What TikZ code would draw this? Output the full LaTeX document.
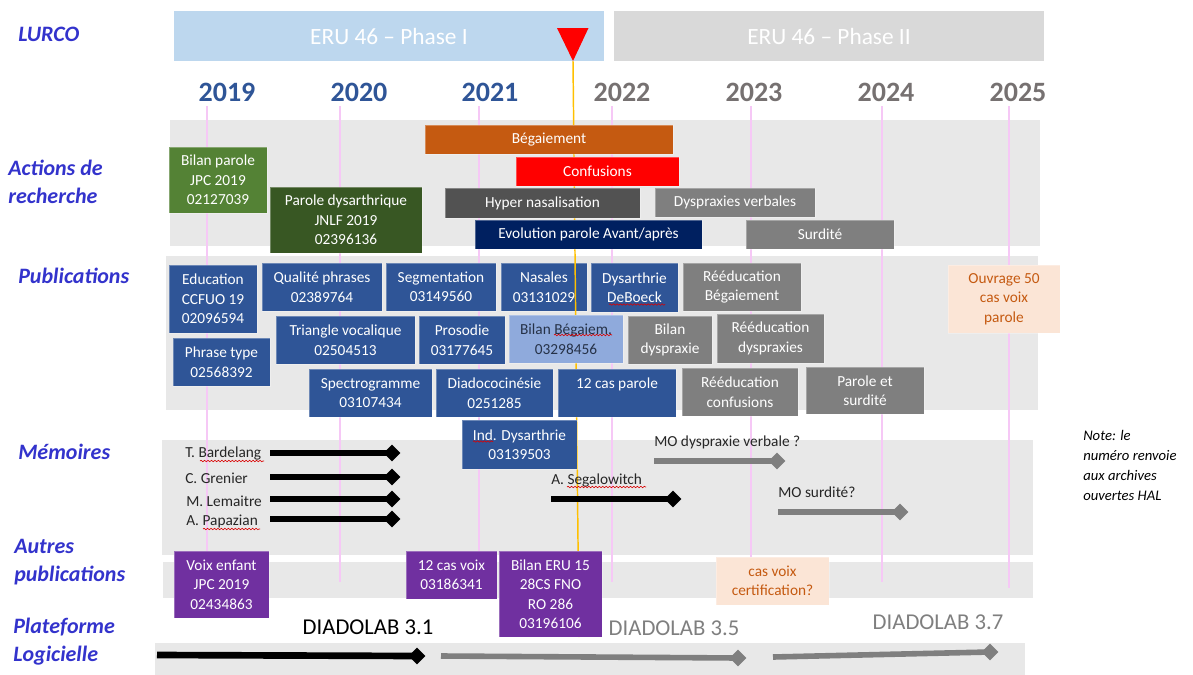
\documentclass[tikz,border=0pt]{standalone}
\usepackage{fontspec}
\setmainfont{Carlito}
\usetikzlibrary{shapes.geometric,decorations.pathmorphing}

\definecolor{phaseone}{RGB}{189,215,238}
\definecolor{phasetwo}{RGB}{217,217,217}
\definecolor{bandgray}{RGB}{232,232,232}
\definecolor{gridpink}{RGB}{246,200,246}
\definecolor{nowline}{RGB}{255,192,0}
\definecolor{yearblue}{RGB}{47,85,151}
\definecolor{yeargray}{RGB}{118,113,113}
\definecolor{labelblue}{RGB}{51,51,204}
\definecolor{pubblue}{RGB}{47,85,151}
\definecolor{pubpale}{RGB}{143,170,220}
\definecolor{pubpaletext}{RGB}{38,50,72}
\definecolor{futgray}{RGB}{127,127,127}
\definecolor{darkgray}{RGB}{82,82,82}
\definecolor{orangebox}{RGB}{197,90,17}
\definecolor{greenA}{RGB}{84,130,53}
\definecolor{greenB}{RGB}{56,87,35}
\definecolor{navybox}{RGB}{0,32,96}
\definecolor{purplebox}{RGB}{112,48,160}
\definecolor{peach}{RGB}{251,229,214}
\definecolor{memtextcol}{RGB}{38,38,38}

\tikzset{
  % a box given by its corners x1/y1/x2/y2 in picture units
  span/.style args={#1/#2/#3/#4}{
    minimum width={(#3-#1)*0.75pt}, minimum height={(#4-#2)*0.75pt},
    at={({(#1+#3)/2},{(#2+#4)/2})}},
  band/.style={fill=bandgray, draw=none},
  gridline/.style={draw=gridpink, line width=0.8pt},
  box/.style={inner sep=0pt, text=white, align=center,
    draw=white, draw opacity=0.3, line width=0.7pt,
    font=\fontsize{11.5}{14.6}\selectfont},
  pub/.style={box, fill=pubblue},
  fut/.style={box, fill=futgray},
  autre/.style={box, fill=purplebox},
  planned/.style={box, fill=peach, text=orangebox},
  phasebar/.style={inner sep=0pt, text=white, font=\fontsize{17.5}{21}\selectfont},
  year/.style={inner sep=0pt, font=\fontsize{21}{25}\selectfont\bfseries},
  rowlabel/.style={inner sep=0pt, anchor=west, align=left, text=labelblue,
    font=\fontsize{16.5}{21}\selectfont\bfseries\itshape},
  memtext/.style={inner sep=0pt, anchor=west, text=memtextcol,
    font=\fontsize{11.5}{14}\selectfont},
  dmd/.style={diamond, inner sep=0pt, minimum width=12.75pt, minimum height=12.75pt},
  blackbar/.style={line width=5pt, draw=black},
  graybar/.style={line width=4.2pt, draw=futgray},
  release/.style={inner sep=0pt, font=\fontsize{17}{21}\selectfont},
  squig/.style={draw=red!85!black, line width=0.45pt, decorate,
    decoration={snake, amplitude=0.55pt, segment length=2.6pt}},
}

\begin{document}
\begin{tikzpicture}[x=0.75pt, y=-0.75pt]
\useasboundingbox (0,0) rectangle (1193,675);

% background bands of the rows
\fill[band] (170,120) rectangle (1040,246);
\fill[band] (166,256) rectangle (1038,410);
\fill[band] (162,440) rectangle (1033,555);
\fill[band] (163,562) rectangle (1033,598);
\fill[band] (155,643) rectangle (1025,675);

% year grid
\foreach \gx in {207,340,479,612,751,882}
  \draw[gridline] (\gx,106) -- (\gx,582);
\draw[gridline] (1009,106) -- (1009,588);

% project phases
\node[phasebar, fill=phaseone, span=174/11/604/61] (phase1) {ERU 46 -- Phase I};
\node[phasebar, fill=phasetwo, span=614/11/1044/61] (phase2) {ERU 46 -- Phase II};

% years
\node[year, text=yearblue] (y2019) at (227,92) {2019};
\node[year, text=yearblue] (y2020) at (359,92) {2020};
\node[year, text=yearblue] (y2021) at (490,92) {2021};
\node[year, text=yeargray] (y2022) at (622,92) {2022};
\node[year, text=yeargray] (y2023) at (754,92) {2023};
\node[year, text=yeargray] (y2024) at (886,92) {2024};
\node[year, text=yeargray] (y2025) at (1018,92) {2025};

% row labels
\node[rowlabel] (lurco) at (18,34) {LURCO};
\node[rowlabel] (lactions) at (8,182) {Actions de\\recherche};
\node[rowlabel] (lpubli) at (18,276) {Publications};
\node[rowlabel] (lmemoires) at (18,452) {Mémoires};
\node[rowlabel] (lautres) at (14,562) {Autres\\publications};
\node[rowlabel] (lplateforme) at (13,642) {Plateforme\\Logicielle};

% publication crossed by the current-date line
\node[pub, span=501/263/587/311] (nasales) {Nasales\\03131029};

% current date marker
\coordinate (nowtop) at (573,61);
\coordinate (nowbottom) at (579,637);
\draw[nowline, line width=1.1pt] (nowtop) -- (nowbottom);
\fill[red] (557,28) -- (588.5,28) -- (nowtop) -- cycle;

% research actions
\node[box, fill=greenA, span=169/147/267/213] (bilanparole) {Bilan parole\\JPC 2019\\02127039};
\node[box, fill=greenB, span=270/187/422/253] (paroledys) {Parole dysarthrique\\JNLF 2019\\02396136};
\node[box, fill=orangebox, span=425/125/673/154] (begaiement) {Bégaiement};
\node[box, fill=red, span=516/157/679/186] (confusions) {Confusions};
\node[box, fill=darkgray, span=445/188/640/218] (hypernas) {Hyper nasalisation};
\node[fut, span=655/188/815/217] (dysverb) {Dyspraxies verbales};
\node[box, fill=navybox, span=475/220/702/249] (evolution) {Evolution parole Avant/après};
\node[fut, span=746/220/894/249] (surdite) {Surdité};

% publications
\node[pub, span=169/265/257/333] (education) {Education\\CCFUO 19\\02096594};
\node[pub, span=173/338/270/386] (phrasetype) {Phrase type\\02568392};
\node[pub, span=262/263/382/311] (qualite) {Qualité phrases\\02389764};
\node[pub, span=386/263/496/311] (segmentation) {Segmentation\\03149560};
\node[pub, span=276/316/415/364] (trianglevoc) {Triangle vocalique\\02504513};
\node[pub, span=419/316/505/364] (prosodie) {Prosodie\\03177645};
\node[pub, span=309/369/432/417] (spectro) {Spectrogramme\\03107434};
\node[pub, span=436/369/553/417] (diado) {Diadococinésie\\0251285};
\node[pub, span=558/369/676/417] (douzeparole) {12 cas parole\\~};
\node[pub, span=591/263/678/312] (deboeck) {Dysarthrie\\DeBoeck};
\node[box, fill=pubpale, text=pubpaletext, span=509/315/623/363] (bilanbeg) {Bilan Bégaiem.\\03298456};
\node[pub, span=462/420/577/469] (inddys) {Ind. Dysarthrie\\03139503};
\node[fut, span=683/263/801/311] (reedbeg) {Rééducation\\Bégaiement};
\node[fut, span=628/316/712/364] (bilandys) {Bilan\\dyspraxie};
\node[fut, span=717/314/824/363] (reeddys) {Rééducation\\dyspraxies};
\node[fut, span=682/368/798/416] (reedconf) {Rééducation\\confusions};
\node[fut, span=806/367/924/414] (parolesurd) {Parole et\\surdité};
\node[planned, span=948/265/1060/333] (ouvrage) {Ouvrage 50\\cas voix\\parole};

% theses (memoires)
\node[memtext] (bardelang) at (185,453) {T. Bardelang};
\node[memtext] (grenier) at (185,478) {C. Grenier};
\node[memtext] (lemaitre) at (186,501) {M. Lemaitre};
\node[memtext] (papazian) at (186,521) {A. Papazian};
\coordinate (m1s) at (270,453);
\coordinate (m2s) at (270,477);
\coordinate (m3s) at (270,499);
\coordinate (m4s) at (270,519);
\node[dmd, fill=black] (m1e) at (392,453) {};
\node[dmd, fill=black] (m2e) at (392,477) {};
\node[dmd, fill=black] (m3e) at (392,499) {};
\node[dmd, fill=black] (m4e) at (392,519) {};
\draw[blackbar] (m1s) -- (m1e.center);
\draw[blackbar] (m2s) -- (m2e.center);
\draw[blackbar] (m3s) -- (m3e.center);
\draw[blackbar] (m4s) -- (m4e.center);

\node[memtext] (segalowitch) at (551,480) {A. Segalowitch};
\coordinate (m5s) at (551,499);
\node[dmd, fill=black] (m5e) at (673,499) {};
\draw[blackbar] (m5s) -- (m5e.center);

\node[memtext] (modysp) at (654,442) {MO dyspraxie verbale ?};
\coordinate (m6s) at (654,461);
\node[dmd, fill=futgray] (m6e) at (777,461) {};
\draw[graybar] (m6s) -- (m6e.center);

\node[memtext] (mosurd) at (778,492) {MO surdité?};
\coordinate (m7s) at (778,512);
\node[dmd, fill=futgray] (m7e) at (900,512) {};
\draw[graybar] (m7s) -- (m7e.center);

% other publications
\node[autre, span=174/551/269/618] (voixenfant) {Voix enfant\\JPC 2019\\02434863};
\node[autre, span=406/551/497/599] (douzevoix) {12 cas voix\\03186341};
\node[autre, span=499/551/602/637] (bilaneru) {Bilan ERU 15\\28CS FNO\\RO 286\\03196106};
\node[planned, span=716/557/829/605] (casvoix) {cas voix\\certification?};

% software releases
\node[release, text=black] (diado31) at (368,627) {DIADOLAB 3.1};
\node[release, text=futgray] (diado35) at (674,628) {DIADOLAB 3.5};
\node[release, text=futgray] (diado37) at (938,622) {DIADOLAB 3.7};
\coordinate (p1s) at (157,655);
\node[dmd, fill=black] (p1e) at (417,656) {};
\draw[blackbar] (p1s) -- (p1e.center);
\coordinate (p2s) at (441,656);
\node[dmd, fill=futgray] (p2e) at (738,658) {};
\draw[graybar] (p2s) -- (p2e.center);
\coordinate (p3s) at (773,657);
\node[dmd, fill=futgray] (p3e) at (990,652) {};
\draw[graybar] (p3s) -- (p3e.center);

% note
\node[inner sep=0pt, anchor=west, align=left, text=black,
  font=\fontsize{11}{15}\selectfont\itshape] (note) at (1083,465)
  {Note: le\\numéro renvoie\\aux archives\\ouvertes HAL};

% spell-check underlines
\draw[squig] (609,304.5) -- (665,304.5);
\draw[squig] (554,335) -- (612,335);
\draw[squig] (473,441.5) -- (493,441.5);
\draw[squig] (200,461) -- (264,461);
\draw[squig] (203,529) -- (260,529);
\draw[squig] (567,487) -- (646,487);
\end{tikzpicture}
\end{document}
